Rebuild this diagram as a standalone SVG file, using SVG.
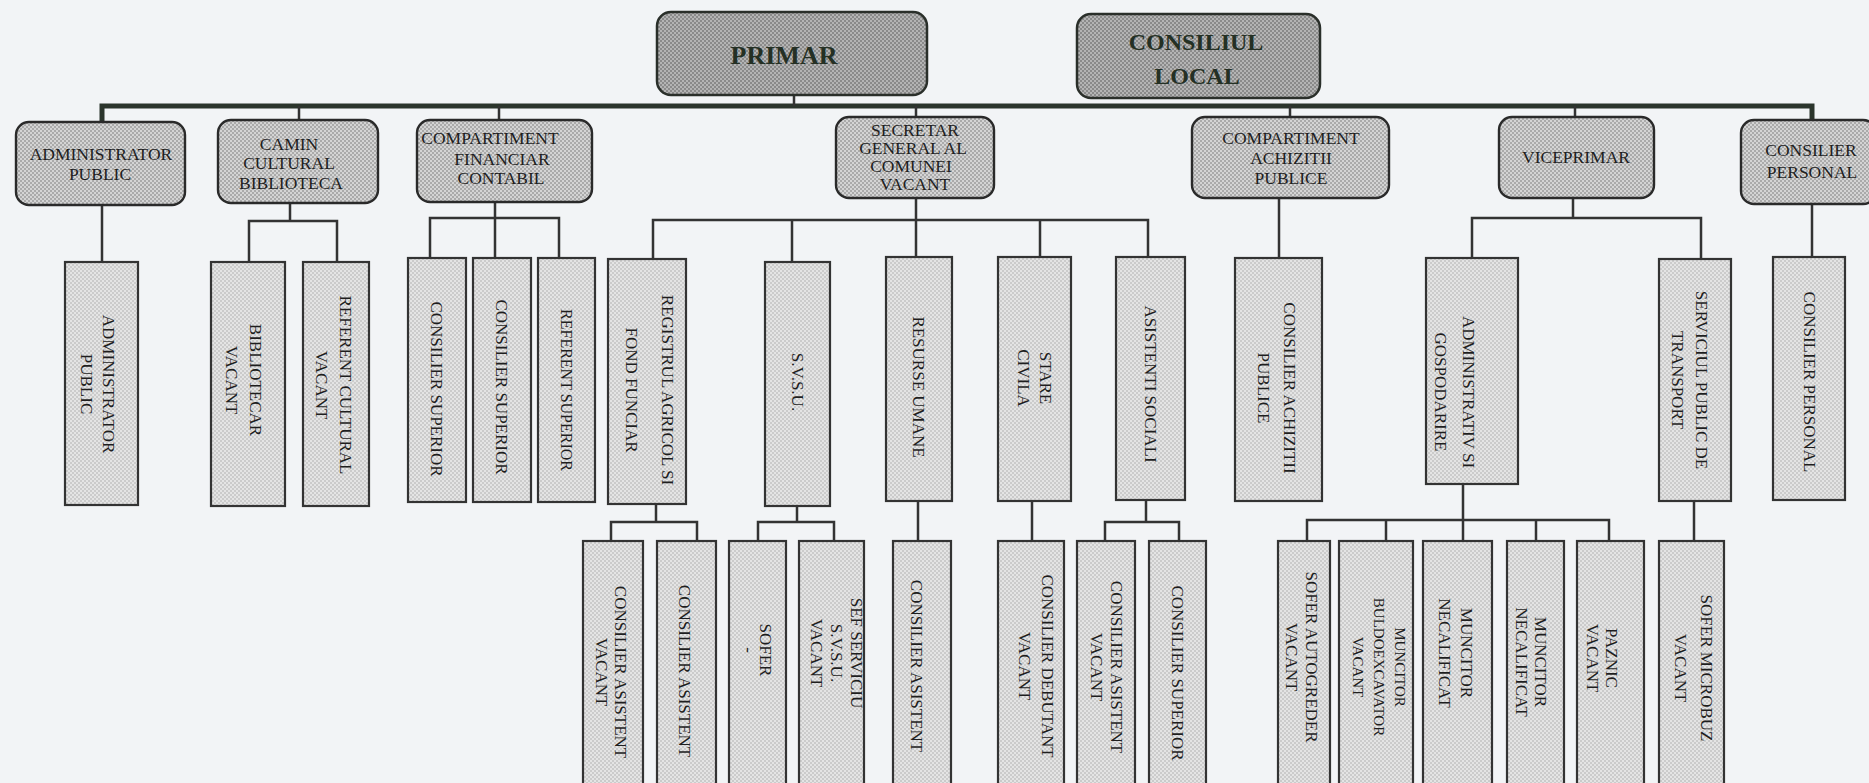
<svg xmlns="http://www.w3.org/2000/svg" width="1869" height="783" viewBox="0 0 1869 783">
<defs>
<pattern id="pTop" width="4" height="4" patternUnits="userSpaceOnUse"><rect width="4" height="4" fill="#b4b4b4"/><rect width="2" height="2" fill="#8a8a8a"/><rect x="2" y="2" width="2" height="2" fill="#8a8a8a"/></pattern>
<pattern id="pMid" width="4" height="4" patternUnits="userSpaceOnUse"><rect width="4" height="4" fill="#d4d4d4"/><rect width="2" height="2" fill="#aaaaaa"/><rect x="2" y="2" width="2" height="2" fill="#aaaaaa"/></pattern>
<pattern id="pLow" width="4" height="4" patternUnits="userSpaceOnUse"><rect width="4" height="4" fill="#e4e4e4"/><rect width="2" height="2" fill="#cbcbcb"/><rect x="2" y="2" width="2" height="2" fill="#cbcbcb"/></pattern>
</defs>
<style>
.top{fill:url(#pTop);stroke:#2a2f2a;stroke-width:2.5}
.mid{fill:url(#pMid);stroke:#2a2a2a;stroke-width:2.4}
.low{fill:url(#pLow);stroke:#333;stroke-width:2.2}
.tt{font-family:"Liberation Serif","Times New Roman",serif;font-weight:bold;fill:#243024;text-anchor:middle}
.ht{font-family:"Liberation Serif","Times New Roman",serif;font-size:17.5px;fill:#1e1e1e;text-anchor:middle}
.vt{font-family:"Liberation Serif","Times New Roman",serif;font-size:17px;fill:#1e1e1e;text-anchor:middle;dominant-baseline:central}
.bus{fill:none;stroke:#2b352c;stroke-width:5}
.c{fill:none;stroke:#333;stroke-width:2.5}
</style>
<rect width="1869" height="783" fill="#f2f4f6"/>

<g id="connectors">
<path class="bus" d="M102,122 V106 H1812 V120"/>
<path class="c" d="M299,106 V120 M499,106 V120 M794,95 V106 M916,106 V117 M1290,106 V117 M1575,106 V117"/>
<path class="c" d="M102,205 V262"/>
<path class="c" d="M290,203 V221 M249,262 V221 H337 V262"/>
<path class="c" d="M495,202 V258 M430,258 V218 H559 V258"/>
<path class="c" d="M916,198 V257 M653,259 V220 H1148 V257 M792,220 V262 M1040,220 V257"/>
<path class="c" d="M1279,198 V258"/>
<path class="c" d="M1573,198 V218 M1472,258 V218 H1701 V259"/>
<path class="c" d="M1812,204 V257"/>
<path class="c" d="M656,504 V522 M611,541 V522 H697 V541"/>
<path class="c" d="M797,506 V522 M758,541 V522 H834 V541"/>
<path class="c" d="M918,501 V541"/>
<path class="c" d="M1032,501 V541"/>
<path class="c" d="M1146,500 V522 M1105,541 V522 H1179 V541"/>
<path class="c" d="M1463,484 V541 M1307,541 V520 H1609 V541 M1386,520 V541 M1536,520 V541"/>
<path class="c" d="M1694,501 V541"/>
</g>

<g id="n_primar"><rect class="top" x="657" y="12" width="270" height="83" rx="14"/><text class="tt" x="784" y="64" font-size="26">PRIMAR</text></g>
<g id="n_consiliul"><rect class="top" x="1077" y="14" width="243" height="84" rx="14"/><text class="tt" x="1196" y="50" font-size="24">CONSILIUL</text><text class="tt" x="1197" y="84" font-size="24">LOCAL</text></g>

<g id="n_admin"><rect class="mid" x="16" y="122" width="169" height="83" rx="13"/><text class="ht" x="101" y="160">ADMINISTRATOR</text><text class="ht" x="100" y="180">PUBLIC</text></g>
<g id="n_camin"><rect class="mid" x="218" y="120" width="160" height="83" rx="13"/><text class="ht" x="289" y="150">CAMIN</text><text class="ht" x="289" y="169">CULTURAL</text><text class="ht" x="291" y="189">BIBLIOTECA</text></g>
<g id="n_compfin"><rect class="mid" x="417" y="120" width="175" height="82" rx="13"/><text class="ht" x="490" y="144">COMPARTIMENT</text><text class="ht" x="502" y="165">FINANCIAR</text><text class="ht" x="501" y="184">CONTABIL</text></g>
<g id="n_secretar"><rect class="mid" x="836" y="117" width="158" height="81" rx="13"/><text class="ht" x="915" y="136">SECRETAR</text><text class="ht" x="913" y="154">GENERAL AL</text><text class="ht" x="911" y="172">COMUNEI</text><text class="ht" x="915" y="190">VACANT</text></g>
<g id="n_compach"><rect class="mid" x="1192" y="117" width="197" height="81" rx="13"/><text class="ht" x="1291" y="144">COMPARTIMENT</text><text class="ht" x="1291" y="164">ACHIZITII</text><text class="ht" x="1291" y="184">PUBLICE</text></g>
<g id="n_vice"><rect class="mid" x="1499" y="117" width="155" height="81" rx="13"/><text class="ht" x="1576" y="163">VICEPRIMAR</text></g>
<g id="n_conspers"><rect class="mid" x="1741" y="120" width="135" height="84" rx="13"/><text class="ht" x="1811" y="156">CONSILIER</text><text class="ht" x="1812" y="178">PERSONAL</text></g>

<g id="v_admin"><rect class="low" x="65" y="262" width="73" height="243"/><text class="vt" transform="translate(98,384) rotate(90)"><tspan x="0" y="-11">ADMINISTRATOR</tspan><tspan x="0" y="11">PUBLIC</tspan></text></g>
<g id="v_biblio"><rect class="low" x="211" y="262" width="74" height="244"/><text class="vt" transform="translate(244,380) rotate(90)"><tspan x="0" y="-12">BIBLIOTECAR</tspan><tspan x="0" y="12">VACANT</tspan></text></g>
<g id="v_refcult"><rect class="low" x="303" y="262" width="66" height="244"/><text class="vt" transform="translate(334,385) rotate(90)"><tspan x="0" y="-12">REFERENT CULTURAL</tspan><tspan x="0" y="12">VACANT</tspan></text></g>
<g id="v_cs1"><rect class="low" x="408" y="258" width="58" height="244"/><text class="vt" transform="translate(436,389) rotate(90)">CONSILIER SUPERIOR</text></g>
<g id="v_cs2"><rect class="low" x="473" y="258" width="58" height="244"/><text class="vt" transform="translate(501,387) rotate(90)">CONSILIER SUPERIOR</text></g>
<g id="v_rs"><rect class="low" x="538" y="258" width="57" height="244"/><text class="vt" style="font-size:16px" transform="translate(566,390) rotate(90)">REFERENT SUPERIOR</text></g>
<g id="v_registru"><rect class="low" x="608" y="259" width="78" height="245"/><text class="vt" transform="translate(650,390) rotate(90)"><tspan x="0" y="-18">REGISTRUL AGRICOL SI</tspan><tspan x="0" y="18">FOND FUNCIAR</tspan></text></g>
<g id="v_svsu"><rect class="low" x="765" y="262" width="65" height="244"/><text class="vt" transform="translate(797,382) rotate(90)">S.V.S.U.</text></g>
<g id="v_resurse"><rect class="low" x="886" y="257" width="66" height="244"/><text class="vt" transform="translate(918,387) rotate(90)">RESURSE UMANE</text></g>
<g id="v_stare"><rect class="low" x="998" y="257" width="73" height="244"/><text class="vt" transform="translate(1035,378) rotate(90)"><tspan x="0" y="-11">STARE</tspan><tspan x="0" y="11">CIVILA</tspan></text></g>
<g id="v_asist"><rect class="low" x="1116" y="257" width="69" height="243"/><text class="vt" transform="translate(1150,384) rotate(90)">ASISTENTI SOCIALI</text></g>
<g id="v_consach"><rect class="low" x="1235" y="258" width="87" height="243"/><text class="vt" transform="translate(1277,388) rotate(90)"><tspan x="0" y="-13">CONSILIER ACHIZITII</tspan><tspan x="0" y="13">PUBLICE</tspan></text></g>
<g id="v_adminsi"><rect class="low" x="1426" y="258" width="92" height="226"/><text class="vt" transform="translate(1455,392) rotate(90)"><tspan x="0" y="-14">ADMINISTRATIV SI</tspan><tspan x="0" y="14">GOSPODARIRE</tspan></text></g>
<g id="v_serv"><rect class="low" x="1659" y="259" width="72" height="242"/><text class="vt" transform="translate(1690,380) rotate(90)"><tspan x="0" y="-12">SERVICIUL PUBLIC DE</tspan><tspan x="0" y="12">TRANSPORT</tspan></text></g>
<g id="v_conspers"><rect class="low" x="1773" y="257" width="72" height="243"/><text class="vt" transform="translate(1809,382) rotate(90)">CONSILIER PERSONAL</text></g>

<g id="v_cav1"><rect class="low" x="583" y="541" width="60" height="250"/><text class="vt" transform="translate(611,672) rotate(90)"><tspan x="0" y="-9.5">CONSILIER ASISTENT</tspan><tspan x="0" y="9.5">VACANT</tspan></text></g>
<g id="v_ca1"><rect class="low" x="657" y="541" width="59" height="250"/><text class="vt" transform="translate(684,671) rotate(90)">CONSILIER ASISTENT</text></g>
<g id="v_sofer"><rect class="low" x="729" y="541" width="57" height="250"/><text class="vt" transform="translate(757,650) rotate(90)"><tspan x="0" y="-8.5">SOFER</tspan><tspan x="0" y="8.5">-</tspan></text></g>
<g id="v_sef"><rect class="low" x="799" y="541" width="65" height="250"/><text class="vt" transform="translate(837,653) rotate(90)"><tspan x="0" y="-20">SEF SERVICIU</tspan><tspan x="0" y="0">S.V.S.U.</tspan><tspan x="0" y="20">VACANT</tspan></text></g>
<g id="v_ca2"><rect class="low" x="893" y="541" width="58" height="250"/><text class="vt" transform="translate(916,666) rotate(90)">CONSILIER ASISTENT</text></g>
<g id="v_cdeb"><rect class="low" x="998" y="541" width="66" height="250"/><text class="vt" transform="translate(1036,666) rotate(90)"><tspan x="0" y="-11.5">CONSILIER  DEBUTANT</tspan><tspan x="0" y="11.5">VACANT</tspan></text></g>
<g id="v_cav2"><rect class="low" x="1077" y="541" width="58" height="250"/><text class="vt" transform="translate(1107,667) rotate(90)"><tspan x="0" y="-10">CONSILIER ASISTENT</tspan><tspan x="0" y="10">VACANT</tspan></text></g>
<g id="v_cs3"><rect class="low" x="1149" y="541" width="57" height="250"/><text class="vt" transform="translate(1177,673) rotate(90)">CONSILIER  SUPERIOR</text></g>
<g id="v_sauto"><rect class="low" x="1278" y="541" width="52" height="250"/><text class="vt" transform="translate(1302,657) rotate(90)"><tspan x="0" y="-10">SOFER AUTOGREDER</tspan><tspan x="0" y="10">VACANT</tspan></text></g>
<g id="v_mbuldo"><rect class="low" x="1339" y="541" width="74" height="250"/><text class="vt" style="font-size:15px" transform="translate(1379,667) rotate(90)"><tspan x="0" y="-21">MUNCITOR</tspan><tspan x="0" y="0">BULDOEXCAVATOR</tspan><tspan x="0" y="21">VACANT</tspan></text></g>
<g id="v_mn1"><rect class="low" x="1423" y="541" width="69" height="250"/><text class="vt" transform="translate(1456,653) rotate(90)"><tspan x="0" y="-11">MUNCITOR</tspan><tspan x="0" y="11">NECALIFICAT</tspan></text></g>
<g id="v_mn2"><rect class="low" x="1507" y="541" width="57" height="250"/><text class="vt" transform="translate(1531,662) rotate(90)"><tspan x="0" y="-9.5">MUNCITOR</tspan><tspan x="0" y="9.5">NECALIFICAT</tspan></text></g>
<g id="v_paznic"><rect class="low" x="1577" y="541" width="67" height="250"/><text class="vt" transform="translate(1602,658) rotate(90)"><tspan x="0" y="-9.5">PAZNIC</tspan><tspan x="0" y="9.5">VACANT</tspan></text></g>
<g id="v_smicro"><rect class="low" x="1659" y="541" width="65" height="250"/><text class="vt" transform="translate(1694,668) rotate(90)"><tspan x="0" y="-13">SOFER MICROBUZ</tspan><tspan x="0" y="13">VACANT</tspan></text></g>
</svg>
